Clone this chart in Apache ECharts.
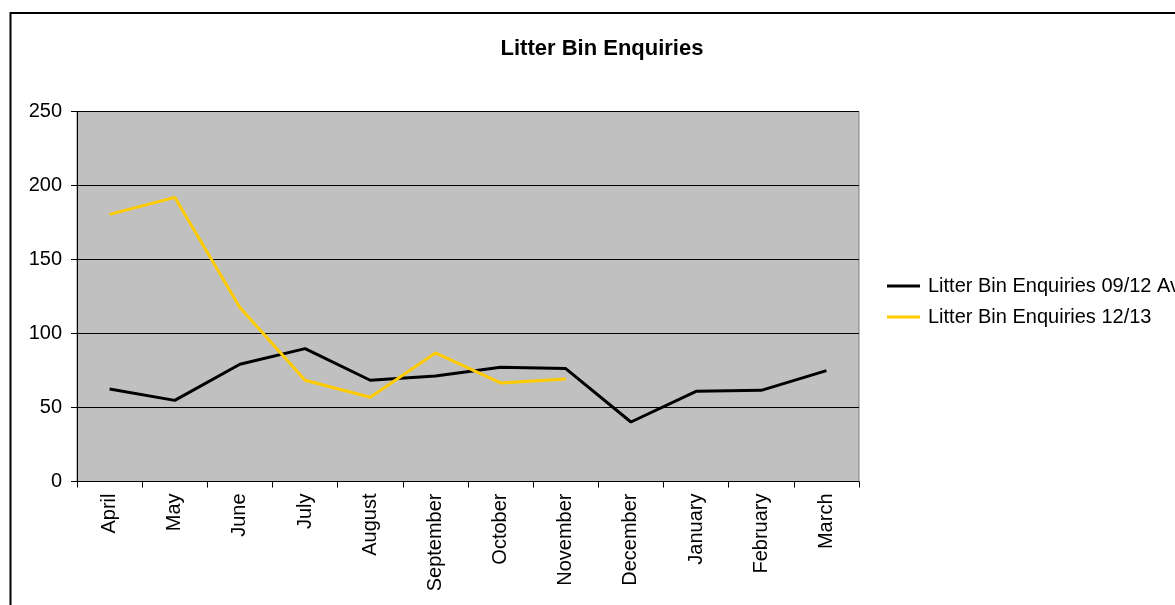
<!DOCTYPE html>
<html>
<head>
<meta charset="utf-8">
<title>Litter Bin Enquiries</title>
<script src="https://cdn.jsdelivr.net/npm/echarts@6/dist/echarts.min.js"></script>
<style>
  html, body { margin: 0; padding: 0; background: #ffffff; }
  #chart { width: 1175px; height: 605px; }
</style>
</head>
<body>
<div id="chart"></div>
<script>
// Months of the financial year
const months = ['April', 'May', 'June', 'July', 'August', 'September', 'October',
  'November', 'December', 'January', 'February', 'March'];

// Average monthly enquiries over 09/12
const avg0912 = [62.5, 54.8, 79.2, 89.8, 68.4, 71.3, 77.2, 76.3, 40.2, 60.9, 61.6, 74.9];

// Enquiries for 12/13 (year to date)
const year1213 = [180.5, 192, 117.6, 68.4, 56.9, 86.9, 66.6, 69.3];

// Value axis ticks
const yTicks = [0, 50, 100, 150, 200, 250];

const seriesNames = ['Litter Bin Enquiries 09/12 Av', 'Litter Bin Enquiries 12/13'];

const FONT = '"Liberation Sans", Arial, sans-serif';

const chart = echarts.init(document.getElementById('chart'), null, { renderer: 'canvas' });

chart.setOption({
  backgroundColor: '#ffffff',
  animation: false,
  title: {
    text: 'Litter Bin Enquiries',
    left: 597,
    top: 33,
    textAlign: 'center',
    textStyle: { fontFamily: FONT, fontWeight: 'bold', fontSize: 22, color: '#000' }
  },
  legend: {
    orient: 'vertical',
    left: 882,
    top: 271,
    itemWidth: 33,
    itemHeight: 3,
    itemGap: 11,
    icon: 'rect',
    textStyle: { fontFamily: FONT, fontSize: 20, color: '#000', padding: [0, 0, 0, 3] },
    data: seriesNames
  },
  grid: {
    left: 77,
    right: 316,
    top: 111.5,
    bottom: 123.5,
    show: true,
    backgroundColor: '#c0c0c0',
    borderColor: '#808080',
    borderWidth: 1
  },
  xAxis: {
    type: 'category',
    data: months,
    boundaryGap: true,
    axisLine: { lineStyle: { color: '#000', width: 1 } },
    axisTick: { show: true, alignWithLabel: false, length: 6, lineStyle: { color: '#000' } },
    axisLabel: {
      rotate: 90,
      margin: 12,
      interval: 0,
      fontFamily: FONT,
      fontSize: 20,
      color: '#000'
    },
    splitLine: { show: false }
  },
  yAxis: {
    type: 'value',
    min: yTicks[0],
    max: yTicks[yTicks.length - 1],
    interval: 50,
    axisLine: { show: true, lineStyle: { color: '#000', width: 1 } },
    axisTick: { show: true, length: 6, lineStyle: { color: '#000' } },
    axisLabel: { margin: 15, fontFamily: FONT, fontSize: 20, color: '#000' },
    splitLine: { show: true, lineStyle: { color: '#000', width: 1 } }
  },
  graphic: [{
    type: 'rect',
    z: -1,
    shape: { x: 10.5, y: 13, width: 1300, height: 700 },
    style: { fill: 'none', stroke: '#000', lineWidth: 2 }
  }],
  series: [{
    name: seriesNames[0],
    type: 'line',
    data: avg0912,
    symbol: 'none',
    lineStyle: { color: '#000000', width: 3 },
    itemStyle: { color: '#000000' }
  }, {
    name: seriesNames[1],
    type: 'line',
    data: year1213,
    symbol: 'none',
    lineStyle: { color: '#ffcc00', width: 3 },
    itemStyle: { color: '#ffcc00' }
  }]
});
</script>
</body>
</html>
